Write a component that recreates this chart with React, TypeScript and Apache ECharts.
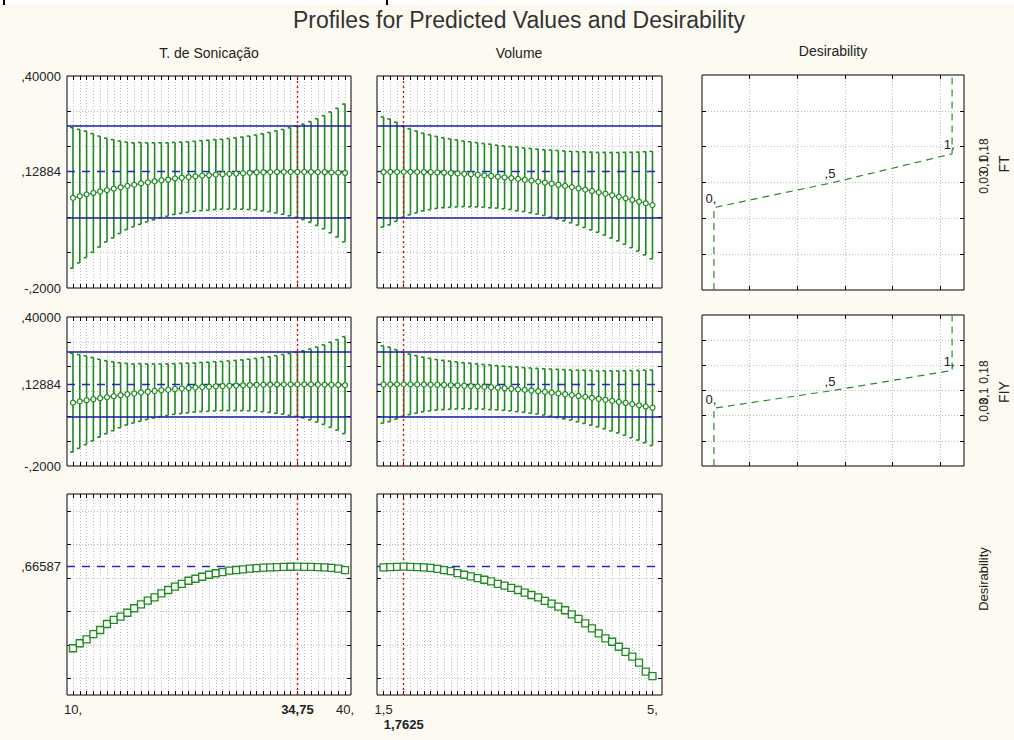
import React, { useEffect, useRef } from "react";
import * as echarts from "echarts";

// ---------------- data ----------------
const tempGrid = [10, 10.75, 11.5, 12.25, 13, 13.75, 14.5, 15.25, 16, 16.75, 17.5, 18.25, 19, 19.75, 20.5, 21.25, 22, 22.75, 23.5, 24.25, 25, 25.75, 26.5, 27.25, 28, 28.75, 29.5, 30.25, 31, 31.75, 32.5, 33.25, 34, 34.75, 35.5, 36.25, 37, 37.75, 38.5, 39.25, 40];
const volGrid = [1.5, 1.5875, 1.675, 1.7625, 1.85, 1.9375, 2.025, 2.1125, 2.2, 2.2875, 2.375, 2.4625, 2.55, 2.6375, 2.725, 2.8125, 2.9, 2.9875, 3.075, 3.1625, 3.25, 3.3375, 3.425, 3.5125, 3.6, 3.6875, 3.775, 3.8625, 3.95, 4.0375, 4.125, 4.2125, 4.3, 4.3875, 4.475, 4.5625, 4.65, 4.7375, 4.825, 4.9125, 5];

// predicted response vs T. de Sonicação (FT row and FIY row read the same)
const predByTemp = [0.055, 0.060, 0.065, 0.069, 0.073, 0.077, 0.081, 0.085, 0.089, 0.092, 0.096, 0.099, 0.102, 0.105, 0.107, 0.110, 0.112, 0.114, 0.116, 0.118, 0.119, 0.121, 0.122, 0.123, 0.124, 0.125, 0.126, 0.127, 0.1275, 0.128, 0.1284, 0.1286, 0.1288, 0.12884, 0.1287, 0.1285, 0.1281, 0.1277, 0.1271, 0.1264, 0.1256];
const ciHalfByTemp = [0.199, 0.189, 0.179, 0.168, 0.157, 0.147, 0.139, 0.131, 0.124, 0.119, 0.116, 0.112, 0.109, 0.106, 0.104, 0.102, 0.101, 0.100, 0.099, 0.099, 0.099, 0.099, 0.099, 0.100, 0.101, 0.102, 0.104, 0.106, 0.109, 0.112, 0.116, 0.120, 0.1245, 0.129, 0.135, 0.1425, 0.151, 0.160, 0.171, 0.182, 0.195];

// predicted response vs Volume
const predByVol = [0.1282, 0.1286, 0.1288, 0.12884, 0.1288, 0.1285, 0.1282, 0.1277, 0.1271, 0.1263, 0.1254, 0.1244, 0.1232, 0.1219, 0.1205, 0.1189, 0.1171, 0.1152, 0.1132, 0.1111, 0.1088, 0.1064, 0.1038, 0.1011, 0.0983, 0.0953, 0.0922, 0.0890, 0.0856, 0.0821, 0.0784, 0.0746, 0.0707, 0.0667, 0.0625, 0.0582, 0.0538, 0.0492, 0.0445, 0.0397, 0.0347];
const ciHalfByVol = [0.156, 0.150, 0.140, 0.129, 0.122, 0.116, 0.110, 0.106, 0.102, 0.099, 0.097, 0.095, 0.093, 0.092, 0.091, 0.090, 0.090, 0.089, 0.089, 0.089, 0.090, 0.090, 0.091, 0.092, 0.093, 0.095, 0.097, 0.099, 0.101, 0.104, 0.107, 0.110, 0.113, 0.117, 0.121, 0.125, 0.130, 0.135, 0.140, 0.146, 0.152];

// desirability profiles
const desirByTemp = [0.179, 0.209, 0.232, 0.264, 0.288, 0.324, 0.348, 0.368, 0.391, 0.418, 0.441, 0.463, 0.483, 0.507, 0.527, 0.547, 0.563, 0.582, 0.594, 0.606, 0.618, 0.627, 0.634, 0.642, 0.646, 0.650, 0.654, 0.658, 0.660, 0.662, 0.664, 0.665, 0.6657, 0.66587, 0.6655, 0.665, 0.664, 0.662, 0.659, 0.654, 0.645];
const desirByVol = [0.662, 0.664, 0.6655, 0.66587, 0.6655, 0.664, 0.662, 0.659, 0.653, 0.646, 0.640, 0.628, 0.618, 0.608, 0.598, 0.588, 0.578, 0.564, 0.553, 0.539, 0.527, 0.511, 0.497, 0.483, 0.462, 0.446, 0.428, 0.406, 0.381, 0.355, 0.328, 0.298, 0.268, 0.238, 0.218, 0.188, 0.158, 0.129, 0.093, 0.039, 0.013];

const currentTemp = 34.75;
const currentVol = 1.7625;
const currentPred = 0.12884;
const currentDesir = 0.66587;

// desirability function (desirability, response)
const desirFnD = [0, 0, 0.5, 1, 1];
const desirFnResp = [-0.2, 0.03, 0.1, 0.18, 0.4];
const desirFnLabels = ["", "0,", ",5", "1,", ""];
const specLabels = ["0,03", "0,1", "0,18"];

// ticks / labels
const respRange = [-0.2, 0.4];
const respTicks = [-0.1, 0, 0.1, 0.2, 0.3];
const respLabelValues = [-0.2, 0.12884, 0.4];
const respLabelTexts = ["-,2000", ",12884", ",40000"];
const desirRange = [-0.1, 1.1];
const desirTicks = [0, 0.2, 0.4, 0.6, 0.8, 1];
const desirLabelValues = [0.66587];
const desirLabelTexts = [",66587"];
const desirFnRange = [-0.05, 1.05];
const desirFnTicks = [0.15, 0.35, 0.55, 0.75, 0.95];
const tempLabelValues = [10, 34.75, 40];
const tempLabelTexts = ["10,", "{b|34,75}", "40,"];
const volLabelValues = [1.5, 5];
const volLabelTexts = ["1,5", "5,"];
const volCurrentLabelValues = [1.7625];
const volCurrentLabelTexts = ["{b|1,7625}"];

// ---------------- styling ----------------
const GREEN = "#1f8a1f";
const BLUE = "#1a1aa8";
const BLUE_D = "#2424c8";
const RED = "#ff0000";
const FONT = "Arial, 'Liberation Sans', sans-serif";
const TXT = "#222";

const lookup = (vals: number[], texts: string[]) => (v: number) => {
  const i = vals.findIndex((u) => Math.abs(u - v) < 1e-7);
  return i >= 0 ? texts[i] : "";
};

function buildOption() {
  const grid: any[] = [];
  const xAxis: any[] = [];
  const yAxis: any[] = [];
  const series: any[] = [];

  const tick = (vals: number[]) => ({
    show: true,
    inside: true,
    length: 4,
    customValues: vals,
    lineStyle: { color: "#000", width: 1 },
  });
  const split = { show: true, lineStyle: { color: "#bcbcbc", type: [1, 2], width: 1 } };
  const noLine = { show: false, onZero: false };
  const xLabelStyle = (vals: number[], texts: string[]) => ({
    show: true, customValues: vals, formatter: lookup(vals, texts),
    showMinLabel: true, showMaxLabel: true, hideOverlap: false,
    margin: 8, fontSize: 13, color: TXT, fontFamily: FONT,
    rich: { b: { fontWeight: "bold", fontSize: 13, color: TXT, fontFamily: FONT } },
  });

  function panel(p: any) {
    const gi = grid.length;
    grid.push({
      left: p.left, top: p.top, width: p.width, height: p.height,
      show: true, backgroundColor: "#fff", borderColor: "#000", borderWidth: 1,
    });
    const xi = xAxis.length;
    const yi = yAxis.length;
    xAxis.push({
      type: "value", gridIndex: gi, position: "bottom", min: p.xr[0], max: p.xr[1],
      axisLine: noLine, axisTick: tick(p.xTicks), splitLine: split,
      axisLabel: p.xLabels ? xLabelStyle(p.xLabels[0], p.xLabels[1]) : { show: false },
    });
    xAxis.push({
      type: "value", gridIndex: gi, position: "top", min: p.xr[0], max: p.xr[1],
      axisLine: noLine, axisTick: tick(p.xTicks), splitLine: { show: false }, axisLabel: { show: false },
    });
    if (p.xLabels2) {
      // second label row (current setting printed below the range labels)
      xAxis.push({
        type: "value", gridIndex: gi, position: "bottom", offset: 15, min: p.xr[0], max: p.xr[1],
        axisLine: noLine, axisTick: { show: false }, splitLine: { show: false },
        axisLabel: xLabelStyle(p.xLabels2[0], p.xLabels2[1]),
      });
    }
    yAxis.push({
      type: "value", gridIndex: gi, position: "left", min: p.yr[0], max: p.yr[1],
      axisLine: noLine, axisTick: tick(p.yTicks), splitLine: split,
      axisLabel: p.yLabels
        ? {
            show: true, customValues: p.yLabels[0], formatter: lookup(p.yLabels[0], p.yLabels[1]),
            showMinLabel: true, showMaxLabel: true,
            margin: 6, fontSize: 13, color: TXT, fontFamily: FONT,
          }
        : { show: false },
    });
    yAxis.push({
      type: "value", gridIndex: gi, position: "right", min: p.yr[0], max: p.yr[1],
      axisLine: noLine, axisTick: tick(p.yTicks), splitLine: { show: false }, axisLabel: { show: false },
    });
    return { xi, yi };
  }

  const errRender = (params: any, api: any) => {
    const x = api.value(0);
    const lo = api.coord([x, api.value(1)]);
    const hi = api.coord([x, api.value(2)]);
    const st = { stroke: GREEN, lineWidth: 1.6 };
    return {
      type: "group",
      children: [
        { type: "line", shape: { x1: lo[0], y1: lo[1], x2: hi[0], y2: hi[1] }, style: st },
        { type: "line", shape: { x1: hi[0] - 3, y1: hi[1], x2: hi[0], y2: hi[1] }, style: st },
        { type: "line", shape: { x1: lo[0] - 3, y1: lo[1], x2: lo[0], y2: lo[1] }, style: st },
      ],
    };
  };

  const redLine = { color: RED, type: [2, 3], width: 1.4 };
  const blueDash = { color: BLUE_D, type: [8, 7], width: 1.4 };

  function responsePanel(geo: any, xs: number[], xr: number[], pred: number[], half: number[], cur: number, showY: boolean) {
    const ax = panel({
      ...geo, xr, yr: respRange, xTicks: xs, yTicks: respTicks,
      yLabels: showY ? [respLabelValues, respLabelTexts] : null,
    });
    const ci = xs.indexOf(cur);
    series.push({
      type: "custom", xAxisIndex: ax.xi, yAxisIndex: ax.yi, z: 2, silent: true,
      renderItem: errRender,
      encode: { x: 0, y: [1, 2] },
      data: xs.map((x, i) => [x, pred[i] - half[i], pred[i] + half[i]]),
    });
    series.push({
      type: "line", xAxisIndex: ax.xi, yAxisIndex: ax.yi, z: 4, silent: true,
      data: xs.map((x, i) => [x, pred[i]]),
      symbol: "circle", symbolSize: 5, showSymbol: true,
      lineStyle: { color: GREEN, width: 1 },
      itemStyle: { color: "#fff", borderColor: GREEN, borderWidth: 1.2 },
      markLine: {
        silent: true, symbol: "none", z: 3, label: { show: false },
        data: [
          { xAxis: cur, lineStyle: redLine },
          { yAxis: currentPred, lineStyle: blueDash },
          { yAxis: pred[ci] + half[ci], lineStyle: { color: BLUE, type: "solid", width: 1.5 } },
          { yAxis: pred[ci] - half[ci], lineStyle: { color: BLUE, type: "solid", width: 1.5 } },
        ],
      },
    });
  }

  function desirPanel(geo: any, xs: number[], xr: number[], des: number[], cur: number, showY: boolean, xLabels: any, xLabels2: any) {
    const ax = panel({
      ...geo, xr, yr: desirRange, xTicks: xs, yTicks: desirTicks,
      yLabels: showY ? [desirLabelValues, desirLabelTexts] : null, xLabels, xLabels2,
    });
    series.push({
      type: "line", xAxisIndex: ax.xi, yAxisIndex: ax.yi, z: 4, silent: true,
      data: xs.map((x, i) => [x, des[i]]),
      symbol: "rect", symbolSize: 7, showSymbol: true,
      lineStyle: { color: GREEN, width: 1 },
      itemStyle: { color: "#fff", borderColor: GREEN, borderWidth: 1.3 },
      markLine: {
        silent: true, symbol: "none", z: 3, label: { show: false },
        data: [
          { xAxis: cur, lineStyle: redLine },
          { yAxis: currentDesir, lineStyle: blueDash },
        ],
      },
    });
  }

  function desirFnPanel(geo: any) {
    const ax = panel({ ...geo, xr: desirFnRange, yr: respRange, xTicks: desirFnTicks, yTicks: respTicks });
    series.push({
      type: "line", xAxisIndex: ax.xi, yAxisIndex: ax.yi, z: 4, silent: true,
      symbol: "circle", symbolSize: 1, showSymbol: true,
      itemStyle: { color: "rgba(0,0,0,0)", borderWidth: 0 },
      lineStyle: { color: "#2a8a2a", width: 1.2, type: [7, 5] },
      data: desirFnD.map((d, i) => ({
        value: [d, desirFnResp[i]],
        label: desirFnLabels[i]
          ? { show: true, formatter: desirFnLabels[i], position: "top", distance: 2, offset: [-3, 0], fontSize: 13, color: TXT, fontFamily: FONT }
          : { show: false },
      })),
    });
  }

  const rT = [9.34, 40.66];
  const rV = [1.4145, 5.124];
  // row 1 (FT)
  responsePanel({ left: 67, top: 76, width: 284, height: 212 }, tempGrid, rT, predByTemp, ciHalfByTemp, currentTemp, true);
  responsePanel({ left: 377, top: 76, width: 285, height: 212 }, volGrid, rV, predByVol, ciHalfByVol, currentVol, false);
  desirFnPanel({ left: 702, top: 75, width: 262, height: 215 });
  // row 2 (FIY)
  responsePanel({ left: 67, top: 317, width: 284, height: 149 }, tempGrid, rT, predByTemp, ciHalfByTemp, currentTemp, true);
  responsePanel({ left: 377, top: 317, width: 285, height: 149 }, volGrid, rV, predByVol, ciHalfByVol, currentVol, false);
  desirFnPanel({ left: 702, top: 315, width: 262, height: 151 });
  // row 3 (Desirability)
  desirPanel({ left: 67, top: 494, width: 284, height: 201 }, tempGrid, rT, desirByTemp, currentTemp, true, [tempLabelValues, tempLabelTexts], null);
  desirPanel({ left: 377, top: 494, width: 285, height: 201 }, volGrid, rV, desirByVol, currentVol, false, [volLabelValues, volLabelTexts], [volCurrentLabelValues, volCurrentLabelTexts]);

  const txt = (text: string, x: number, y: number, size: number, rot = 0, extra: any = {}) => ({
    type: "text", x, y, rotation: rot, silent: true,
    style: { text, fontSize: size, fontFamily: FONT, fill: TXT, align: "center", verticalAlign: "middle", ...extra },
  });
  const V = Math.PI / 2;

  const graphic = [
    { type: "rect", shape: { x: 0, y: 0, width: 1014, height: 4 }, style: { fill: "#fff" }, silent: true },
    { type: "rect", shape: { x: 3, y: 0, width: 2, height: 5 }, style: { fill: "#000" }, silent: true },
    { type: "rect", shape: { x: 386, y: 0, width: 2, height: 5 }, style: { fill: "#000" }, silent: true },
    txt("Profiles for Predicted Values and Desirability", 519, 20, 23, 0, { fill: "#333" }),
    txt("T. de Sonicação", 209, 53, 14),
    txt("Volume", 519, 53, 14),
    txt("Desirability", 833, 51, 14),
    txt(specLabels[0], 984, 182, 12, V),
    txt(specLabels[1], 984, 165, 12, V),
    txt(specLabels[2], 984, 150, 12, V),
    txt("FT", 1004, 164, 14, V),
    txt(specLabels[0], 984, 410, 12, V),
    txt(specLabels[1], 984, 396, 12, V),
    txt(specLabels[2], 984, 372, 12, V),
    txt("FIY", 1004, 392, 14, V),
    txt("Desirability", 983, 579, 13, V),
  ];

  return { animation: false, backgroundColor: "#fcfaf1", grid, xAxis, yAxis, series, graphic };
}

export default function App() {
  const ref = useRef<HTMLDivElement>(null);
  useEffect(() => {
    const chart = echarts.init(ref.current as HTMLDivElement, null, { renderer: "svg", width: 1014, height: 740 });
    chart.setOption(buildOption() as any);
    return () => chart.dispose();
  }, []);
  return (
    <div
      ref={ref}
      style={{ position: "absolute", left: 0, top: 0, width: 1014, height: 740, background: "#fcfaf1" }}
    />
  );
}
